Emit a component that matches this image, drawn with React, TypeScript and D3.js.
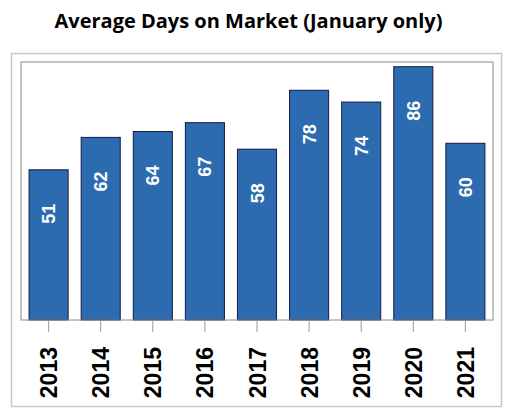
import React from "react";
import * as d3 from "d3";

const years = ["2013", "2014", "2015", "2016", "2017", "2018", "2019", "2020", "2021"];
const days = [51, 62, 64, 67, 58, 78, 74, 86, 60];
const title = "Average Days on Market (January only)";

export default function App() {
  const W = 512, H = 414;
  const left = 21, right = 493, top = 62, bottom = 320;
  const x = d3.scaleBand<string>().domain(years).range([left, right]).paddingInner(0.25).paddingOuter(0.155);
  const y = d3.scaleLinear().domain([0, 87.6]).range([bottom, top]);
  return (
    <svg width={W} height={H} style={{ position: "absolute", left: 0, top: 0, background: "#fff" }}>
      <text x={248.5} y={28} textAnchor="middle" fontFamily="'Open Sans', sans-serif" fontWeight={700} fontSize={20} fill="#000">{title}</text>
      <rect x={11.5} y={53.5} width={490} height={353} fill="none" stroke="#c8c8c8" strokeWidth={1.5} />
      {years.map((yr, i) => {
        const bx = x(yr)!;
        const by = y(days[i]);
        const cx = bx + x.bandwidth() / 2;
        return (
          <g key={yr}>
            <rect x={bx} y={by} width={x.bandwidth()} height={bottom - by} fill="#2c6bb0" stroke="#141a44" strokeWidth={1} />
            <text transform={`translate(${cx + 6.5},${by + 44}) rotate(-90)`} textAnchor="middle" fontFamily="'Liberation Sans', Arial, sans-serif" fontWeight={700} fontSize={18} fill="#fff">{days[i]}</text>
            <line x1={cx} x2={cx} y1={bottom} y2={bottom + 12} stroke="#999" strokeWidth={1} />
            <text transform={`translate(${cx + 8.5},${347}) rotate(-90)`} textAnchor="end" fontFamily="'Liberation Sans', Arial, sans-serif" fontWeight={700} fontSize={23} fill="#000">{yr}</text>
          </g>
        );
      })}
      <rect x={left} y={top} width={right - left} height={bottom - top} fill="none" stroke="#8a8a8a" strokeWidth={1} />
    </svg>
  );
}
